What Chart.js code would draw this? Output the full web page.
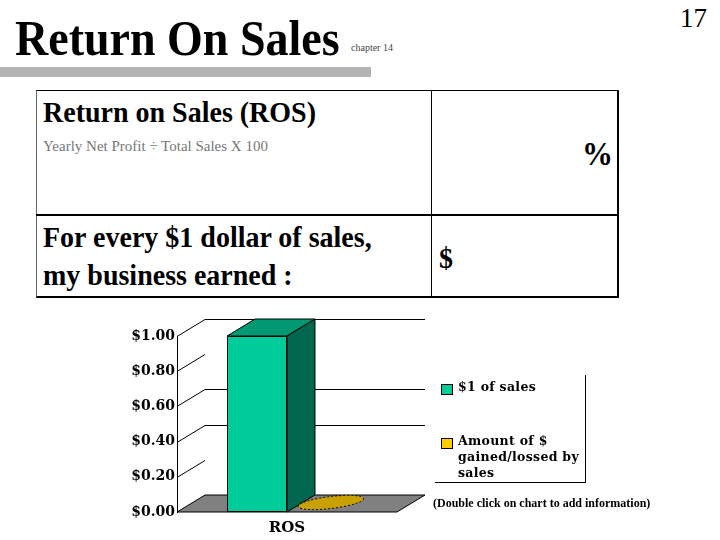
<!DOCTYPE html>
<html>
<head>
<meta charset="utf-8">
<script src="https://cdn.jsdelivr.net/npm/chart.js@4/dist/chart.umd.min.js"></script>
<style>
  html, body { margin: 0; padding: 0; background: #fff; }
  body { width: 720px; height: 540px; position: relative; overflow: hidden;
         font-family: "Liberation Serif", "Times New Roman", serif; color: #000; }
  .abs { position: absolute; white-space: nowrap; transform-origin: 0 0; }
  #title { left: 15px; top: 13px; font-size: 46px; font-weight: bold; line-height: 46px; transform: scaleY(1.1); }
  #chapter { left: 351px; top: 42px; font-size: 10px; color: #444; }
  #page { left: 680px; top: 3px; font-size: 27px; }
  #rule { left: 0; top: 67px; width: 371px; height: 10px; background: #b3b3b3; }
  #tbl { left: 36px; top: 90px; width: 580px; height: 205px;
         border-top: 1px solid #000; border-left: 1px solid #666;
         border-right: 2px solid #000; border-bottom: 2px solid #000; }
  #vdiv { left: 431px; top: 91px; width: 1px; height: 206px; background: #000; }
  #hdiv { left: 36px; top: 214px; width: 582px; height: 2px; background: #000; }
  .big { font-size: 28px; font-weight: bold; line-height: 28px; transform: scaleY(1.08); }
  #ros { left: 43px; top: 97px; }
  #formula { left: 43px; top: 139px; font-size: 15px; line-height: 15px; color: #777; }
  #pct { left: 582px; top: 137px; font-size: 31px; line-height: 31px; font-weight: bold; transform: scaleY(1.08); }
  #every { left: 43px; top: 218px; line-height: 35px; }
  #dollar { left: 439px; top: 243px; }
  #chartBox { position: absolute; left: 100px; top: 300px; width: 340px; height: 240px; }
  #legend { position: absolute; left: 435px; top: 375px; width: 150px; height: 107px;
            border-right: 1px solid #000; border-bottom: 1px solid #000; }
  .item { position: absolute; left: 6px; font-family: "DejaVu Serif", serif; font-size: 12.5px;
          font-weight: bold; line-height: 16px; letter-spacing: 0.3px; }
  .swatch { position: absolute; left: 0; top: 5px; width: 10px; height: 9px; border: 1px solid #000; }
  .item span.txt { display: block; margin-left: 17px; }
  #note { left: 433px; top: 497px; font-size: 12px; line-height: 12px; font-weight: bold; }
</style>
</head>
<body>
<div class="abs" id="title">Return On Sales</div>
<div class="abs" id="chapter">chapter 14</div>
<div class="abs" id="page">17</div>
<div class="abs" id="rule"></div>

<div class="abs" id="tbl"></div>
<div class="abs" id="vdiv"></div>
<div class="abs" id="hdiv"></div>
<div class="abs big" id="ros">Return on Sales (ROS)</div>
<div class="abs" id="formula">Yearly Net Profit ÷ Total Sales X 100</div>
<div class="abs" id="pct">%</div>
<div class="abs big" id="every">For every $1 dollar of sales,<br>my business earned :</div>
<div class="abs big" id="dollar">$</div>

<div id="chartBox"><canvas id="rosChart"></canvas></div>
<div id="legend"></div>
<div class="abs" id="note">(Double click on chart to add information)</div>

<script>
/* ── data ─────────────────────────────────────────────────────── */
const categories   = ["ROS"];
const seriesNames  = ["$1 of sales", "Amount of $ gained/lossed by sales"];
const salesValues  = [1.00];
const gainedValues = [0.00];
const yTicks       = [0, 0.2, 0.4, 0.6, 0.8, 1.0];
const backGridAt   = [0.4, 0.6, 1.0];   // lines visible on the back wall

const colors = {
    front:  ["#00cc99", "#ffcc00"],
    top:    ["#009973", "#c8a000"],
    side:   ["#00664d", "#8c7000"]
};
const depth = { dx: 28, dy: -17 };

/* ── fake 3D: floor, back wall lines, bar tops & sides ───────── */
const threeD = {
    id: "threeD",
    beforeDatasetsDraw(chart) {
        const { ctx, chartArea: a, scales: { y } } = chart;
        ctx.save();
        // floor
        ctx.beginPath();
        ctx.moveTo(a.left, a.bottom);
        ctx.lineTo(a.right, a.bottom);
        ctx.lineTo(a.right + depth.dx, a.bottom + depth.dy);
        ctx.lineTo(a.left + depth.dx, a.bottom + depth.dy);
        ctx.closePath();
        ctx.fillStyle = "#808080";
        ctx.fill();
        ctx.strokeStyle = "#000";
        ctx.lineWidth = 1;
        ctx.stroke();
        // tick stubs and back gridlines
        yTicks.forEach(v => {
            if (v === 0) return;
            const py = Math.round(y.getPixelForValue(v)) + 0.5;
            ctx.beginPath();
            ctx.moveTo(a.left, py);
            ctx.lineTo(a.left + depth.dx, py + depth.dy);
            ctx.stroke();
            if (backGridAt.includes(v)) {
                ctx.beginPath();
                ctx.moveTo(a.left + depth.dx, py + depth.dy);
                ctx.lineTo(a.right + depth.dx, py + depth.dy);
                ctx.stroke();
            }
        });
        ctx.restore();
    },
    afterDatasetsDraw(chart) {
        const { ctx } = chart;
        ctx.save();
        ctx.lineWidth = 1;
        ctx.strokeStyle = "#000";
        chart.data.datasets.forEach((ds, i) => {
            chart.getDatasetMeta(i).data.forEach(bar => {
                const l = bar.x - bar.width / 2, r = bar.x + bar.width / 2;
                const t = bar.y, b = bar.base;
                if (b - t < 2) {
                    // flat value: lying disc on the floor
                    ctx.beginPath();
                    ctx.ellipse(bar.x + depth.dx / 2, b + depth.dy / 2 - 1,
                                bar.width / 2 + 3, 6, -0.12, 0, Math.PI * 2);
                    ctx.fillStyle = colors.top[i];
                    ctx.fill();
                    ctx.setLineDash([2, 2]);
                    ctx.stroke();
                    ctx.setLineDash([]);
                    return;
                }
                // top face
                ctx.beginPath();
                ctx.moveTo(l, t);
                ctx.lineTo(r, t);
                ctx.lineTo(r + depth.dx, t + depth.dy);
                ctx.lineTo(l + depth.dx, t + depth.dy);
                ctx.closePath();
                ctx.fillStyle = colors.top[i];
                ctx.fill();
                ctx.stroke();
                // side face
                ctx.beginPath();
                ctx.moveTo(r, t);
                ctx.lineTo(r + depth.dx, t + depth.dy);
                ctx.lineTo(r + depth.dx, b + depth.dy);
                ctx.lineTo(r, b);
                ctx.closePath();
                ctx.fillStyle = colors.side[i];
                ctx.fill();
                ctx.stroke();
            });
        });
        ctx.restore();
    }
};

new Chart(document.getElementById("rosChart"), {
    type: "bar",
    data: {
        labels: categories,
        datasets: [
            { label: seriesNames[0], data: salesValues,  backgroundColor: colors.front[0],
              borderColor: "#000", borderWidth: 1, borderSkipped: false },
            { label: seriesNames[1], data: gainedValues, backgroundColor: colors.front[1],
              borderColor: "#000", borderWidth: 0 }
        ]
    },
    options: {
        responsive: true,
        maintainAspectRatio: false,
        animation: false,
        layout: { padding: { top: 36, right: 43, left: 0, bottom: 0 } },
        categoryPercentage: 0.545,
        barPercentage: 1.0,
        plugins: { legend: { display: false }, tooltip: { enabled: false } },
        scales: {
            x: {
                grid: { display: false, drawTicks: false },
                border: { display: false },
                ticks: { font: { family: "DejaVu Serif", size: 15, weight: "bold" }, color: "#000", padding: 7 },
                afterFit: s => { s.height = 28; }
            },
            y: {
                min: 0, max: 1,
                afterBuildTicks: s => { s.ticks = yTicks.map(v => ({ value: v })); },
                grid: { display: false, drawTicks: false },
                border: { display: true, color: "#000", width: 1 },
                ticks: { font: { family: "DejaVu Serif", size: 14, weight: "bold" }, color: "#000", padding: 2,
                         callback: v => "$" + Number(v).toFixed(2) },
                afterFit: s => { s.width = 77; }
            }
        }
    },
    plugins: [threeD]
});

/* ── legend (html, built from the series) ────────────────────── */
const legend = document.getElementById("legend");
const legendTops = [4, 58];
seriesNames.forEach((name, i) => {
    const it = document.createElement("div");
    it.className = "item";
    it.style.top = legendTops[i] + "px";
    const lines = i === 1 ? ["Amount of $", "gained/lossed by", "sales"] : [name];
    it.innerHTML = `<div class="swatch" style="background:${colors.front[i]}"></div>` +
                   `<span class="txt">${lines.join("<br>")}</span>`;
    legend.appendChild(it);
});
</script>
</body>
</html>
